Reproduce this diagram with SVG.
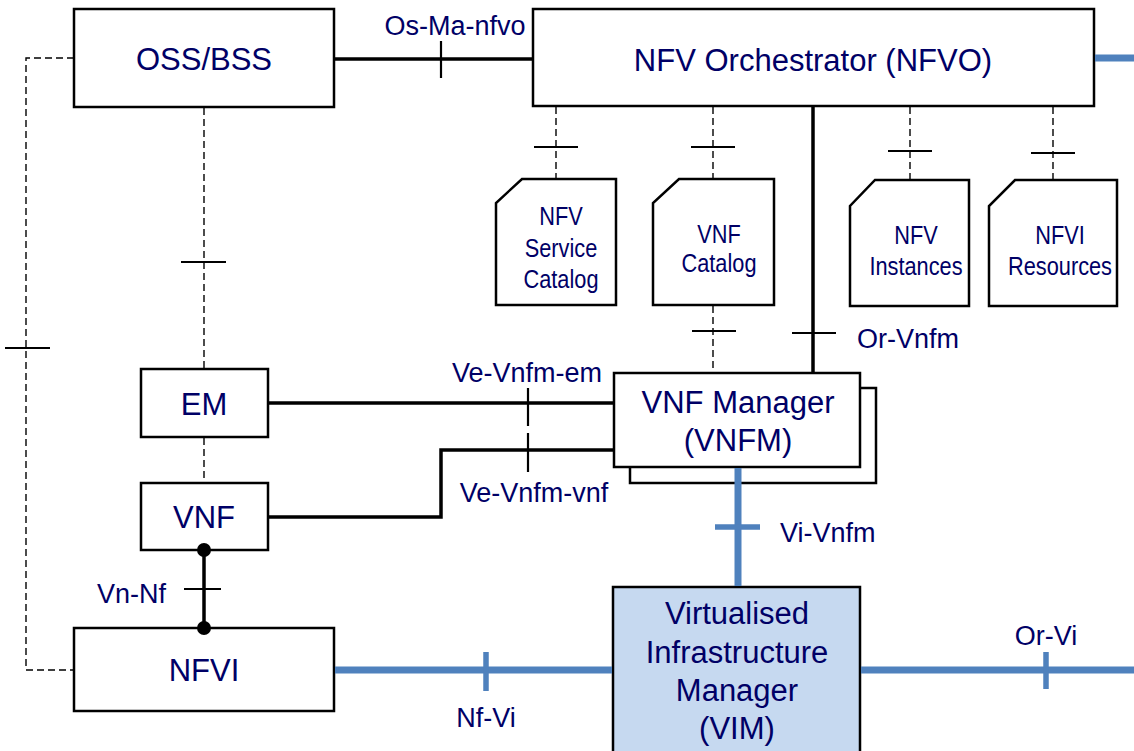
<svg xmlns="http://www.w3.org/2000/svg" width="1134" height="751" viewBox="0 0 1134 751">
<style>
.box{fill:#fff;stroke:#000;stroke-width:2.5}
.vim{fill:#c6d9f0;stroke:#000;stroke-width:2.5}
.big{font-family:"Liberation Sans",Arial,sans-serif;font-size:31px;fill:#000066;text-anchor:middle}
.cat{font-family:"Liberation Sans",Arial,sans-serif;font-size:25px;fill:#000066;text-anchor:middle}
.lbl{font-family:"Liberation Sans",Arial,sans-serif;font-size:27px;fill:#000066}
.thick{stroke:#000;stroke-width:3.5;fill:none}
.dash{stroke:#000;stroke-width:1.4;stroke-dasharray:7,4;fill:none}
.tick{stroke:#000;stroke-width:1.8}
.tickb{stroke:#000;stroke-width:2.2}
.blue{stroke:#4f81bd;stroke-width:7;fill:none}
.btick{stroke:#4f81bd;stroke-width:5.5}
</style>
<g id="oss-bss">
  <rect class="box" x="74" y="9" width="260" height="98"/>
  <text class="big" x="204" y="70">OSS/BSS</text>
</g>
<g id="nfvo">
  <rect class="box" x="533" y="9" width="561" height="97"/>
  <text class="big" x="813" y="71">NFV Orchestrator (NFVO)</text>
</g>
<g id="nfv-service-catalog">
  <path class="box" d="M522,179 H616 V305 H496 V203 Z"/>
  <g transform="translate(561,0) scale(0.87,1)">
    <text class="cat" x="0" y="225">NFV</text>
    <text class="cat" x="0" y="257">Service</text>
    <text class="cat" x="0" y="288">Catalog</text>
  </g>
</g>
<g id="vnf-catalog">
  <path class="box" d="M679,179 H774 V305 H653 V203 Z"/>
  <g transform="translate(719,0) scale(0.87,1)">
    <text class="cat" x="0" y="243">VNF</text>
    <text class="cat" x="0" y="272">Catalog</text>
  </g>
</g>
<g id="nfv-instances">
  <path class="box" d="M875,180 H969 V306 H850 V206 Z"/>
  <g transform="translate(916,0) scale(0.87,1)">
    <text class="cat" x="0" y="244">NFV</text>
    <text class="cat" x="0" y="275">Instances</text>
  </g>
</g>
<g id="nfvi-resources">
  <path class="box" d="M1015,180 H1117 V306 H989 V206 Z"/>
  <g transform="translate(1060,0) scale(0.87,1)">
    <text class="cat" x="0" y="244">NFVI</text>
    <text class="cat" x="0" y="275">Resources</text>
  </g>
</g>
<g id="em">
  <rect class="box" x="141" y="369" width="127" height="68"/>
  <text class="big" x="204" y="415">EM</text>
</g>
<g id="vnf">
  <rect class="box" x="141" y="483" width="127" height="67"/>
  <text class="big" x="204" y="528">VNF</text>
</g>
<g id="nfvi">
  <rect class="box" x="74" y="628" width="260" height="83"/>
  <text class="big" x="204" y="681">NFVI</text>
</g>
<g id="vnfm">
  <rect class="box" x="630" y="388" width="246" height="95"/>
  <rect class="box" x="614" y="373" width="246" height="94"/>
  <text class="big" x="738" y="413">VNF Manager</text>
  <text class="big" x="738" y="451">(VNFM)</text>
</g>
<g id="vim">
  <rect class="vim" x="613" y="587" width="247" height="175"/>
  <text class="big" x="737" y="624">Virtualised</text>
  <text class="big" x="737" y="663">Infrastructure</text>
  <text class="big" x="737" y="701">Manager</text>
  <text class="big" x="737" y="739">(VIM)</text>
</g>
<g id="connectors">
  <polyline class="dash" points="74,58 26,58 26,670 74,670"/>
  <line class="tick" x1="5" y1="348" x2="50" y2="348"/>
  <line class="dash" x1="204" y1="108" x2="204" y2="368"/>
  <line class="tick" x1="181" y1="262" x2="226" y2="262"/>
  <line class="dash" x1="204" y1="438" x2="204" y2="482"/>
  <line class="thick" x1="335" y1="59" x2="532" y2="59"/>
  <line class="tickb" x1="441" y1="41" x2="441" y2="78"/>
  <text class="lbl" x="455" y="35" text-anchor="middle">Os-Ma-nfvo</text>
  <line class="blue" x1="1095" y1="58" x2="1134" y2="58"/>
  <line class="dash" x1="556" y1="107" x2="556" y2="178"/>
  <line class="tick" x1="534" y1="147" x2="578" y2="147"/>
  <line class="dash" x1="713" y1="107" x2="713" y2="178"/>
  <line class="tick" x1="691" y1="147" x2="735" y2="147"/>
  <line class="dash" x1="910" y1="107" x2="910" y2="179"/>
  <line class="tick" x1="888" y1="151" x2="932" y2="151"/>
  <line class="dash" x1="1053" y1="107" x2="1053" y2="179"/>
  <line class="tick" x1="1031" y1="153" x2="1075" y2="153"/>
  <line class="dash" x1="713" y1="306" x2="713" y2="372"/>
  <line class="tick" x1="692" y1="331" x2="736" y2="331"/>
  <line class="thick" x1="813" y1="107" x2="813" y2="372"/>
  <line class="tickb" x1="792" y1="333" x2="836" y2="333"/>
  <text class="lbl" x="857" y="348">Or-Vnfm</text>
  <line class="thick" x1="269" y1="403" x2="613" y2="403"/>
  <line class="tickb" x1="528" y1="388" x2="528" y2="426"/>
  <text class="lbl" x="527" y="382" text-anchor="middle">Ve-Vnfm-em</text>
  <polyline class="thick" points="269,517 441,517 441,450 613,450"/>
  <line class="tickb" x1="528" y1="433" x2="528" y2="472"/>
  <text class="lbl" x="534" y="502" text-anchor="middle">Ve-Vnfm-vnf</text>
  <line class="thick" x1="204" y1="550" x2="204" y2="628"/>
  <circle cx="204" cy="550" r="7" fill="#000"/>
  <circle cx="204" cy="628" r="7" fill="#000"/>
  <line class="tickb" x1="184" y1="589" x2="221" y2="589"/>
  <text class="lbl" x="166" y="603" text-anchor="end">Vn-Nf</text>
  <line class="blue" x1="738" y1="468" x2="738" y2="586"/>
  <line class="btick" x1="715" y1="527" x2="760" y2="527"/>
  <text class="lbl" x="780" y="542">Vi-Vnfm</text>
  <line class="blue" x1="335" y1="670" x2="612" y2="670"/>
  <line class="btick" x1="486" y1="652" x2="486" y2="691"/>
  <text class="lbl" x="486" y="727" text-anchor="middle">Nf-Vi</text>
  <line class="blue" x1="861" y1="670" x2="1134" y2="670"/>
  <line class="btick" x1="1046" y1="652" x2="1046" y2="689"/>
  <text class="lbl" x="1046" y="645" text-anchor="middle">Or-Vi</text>
</g>
</svg>
